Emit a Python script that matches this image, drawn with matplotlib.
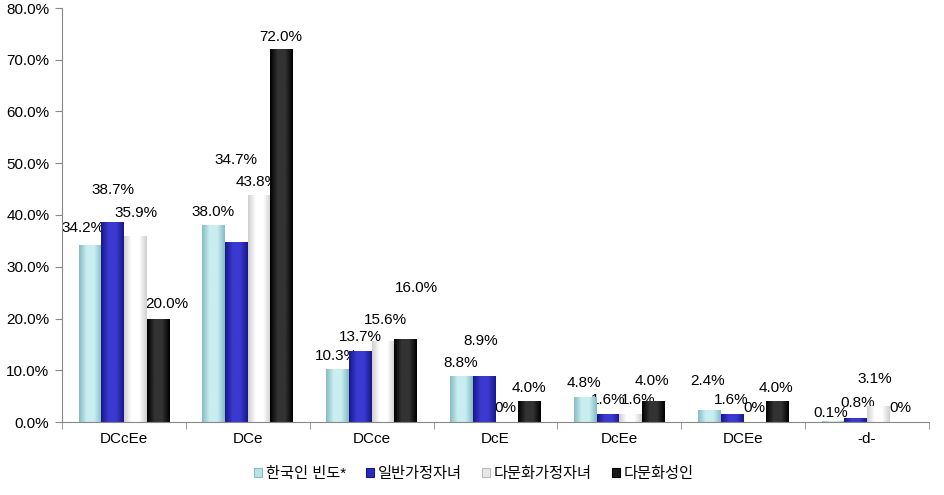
import numpy as np
import matplotlib
matplotlib.use("Agg")
import matplotlib.pyplot as plt
from matplotlib.colors import LinearSegmentedColormap
from matplotlib.patches import Patch

plt.rcParams['font.family'] = ['Liberation Sans', 'Noto Sans CJK KR', 'DejaVu Sans']

categories = ["DCcEe", "DCe", "DCce", "DcE", "DcEe", "DCEe", "-d-"]
series_names = ["한국인 빈도*", "일반가정자녀", "다문화가정자녀", "다문화성인"]
korean_freq = [34.2, 38.0, 10.3, 8.8, 4.8, 2.4, 0.1]
general_children = [38.7, 34.7, 13.7, 8.9, 1.6, 1.6, 0.8]
multicultural_children = [35.9, 43.8, 15.6, 0.0, 1.6, 0.0, 3.1]
multicultural_adults = [20.0, 72.0, 16.0, 4.0, 4.0, 4.0, 0.0]
label_texts = [
    ["34.2%", "38.0%", "10.3%", "8.8%", "4.8%", "2.4%", "0.1%"],
    ["38.7%", "34.7%", "13.7%", "8.9%", "1.6%", "1.6%", "0.8%"],
    ["35.9%", "43.8%", "15.6%", "0%", "1.6%", "0%", "3.1%"],
    ["20.0%", "72.0%", "16.0%", "4.0%", "4.0%", "4.0%", "0%"],
]
yticks = [0, 10, 20, 30, 40, 50, 60, 70, 80]

# label offsets in pixels (dx, dy above bar top) - manual placement as in reference
label_dx = [
    [-7, -1, -1, -1, -1, -2, -2],
    [0, 0, 0, -3, 0, -1, 2],
    [1, -2, 2, -1, 7, 0, -4],
    [9, -1, 11, -1, -1, -1, -1],
]
label_dy = [
    [17, 13, 13, 13, 14, 29, 8],
    [32, 82, 14, 35, 14, 14, 15],
    [23, 13, 21, 14, 14, 14, 27],
    [15, 12, 51, 13, 20, 13, 14],
]

series = [korean_freq, general_children, multicultural_children, multicultural_adults]
edge_cols = ["#86bcc2", "#18188a", "#cfcfcf", "#000000"]
mid_cols = ["#c9eef1", "#3a3ad0", "#ffffff", "#333333"]

fig = plt.figure(figsize=(9.45, 4.95), dpi=100)
ax = fig.add_axes([62/945, 1-422/495, (929-62)/945, (422-8)/495])

x = np.arange(len(categories))
w = 0.183
for j, vals in enumerate(series):
    pos = x + (j - 1.5) * w
    bars = ax.bar(pos, vals, width=w, color=mid_cols[j], zorder=2, linewidth=0)
    cmap = LinearSegmentedColormap.from_list("g%d" % j, [edge_cols[j], mid_cols[j], mid_cols[j], edge_cols[j]])
    grad = np.linspace(0, 1, 64).reshape(1, -1)
    for b in bars:
        h = b.get_height()
        if h <= 0:
            continue
        im = ax.imshow(grad, cmap=cmap, aspect='auto',
                       extent=[b.get_x(), b.get_x() + b.get_width(), 0, h],
                       zorder=2.1, interpolation='bilinear')
        im.set_clip_path(b)
    for i, v in enumerate(vals):
        ax.annotate(label_texts[j][i], xy=(pos[i], v), xytext=(label_dx[j][i], label_dy[j][i]),
                    textcoords='offset pixels', ha='center', va='center', fontsize=11,
                    color='black', zorder=1)

ax.set_xlim(-0.5, len(categories) - 0.5)
ax.set_ylim(0, 80)
ax.set_yticks(yticks)
ax.set_yticklabels(["%.1f%%" % t for t in yticks], fontsize=11)
ax.set_xticks(x)
ax.set_xticklabels(categories, fontsize=11)
ax.set_xticks(np.arange(len(categories) + 1) - 0.5, minor=True)
ax.tick_params(axis='x', which='major', length=0, pad=7)
ax.tick_params(axis='x', which='minor', length=5, color='#888888', direction='out')
ax.tick_params(axis='y', length=5, color='#888888', direction='out', pad=4)
for s in ['top', 'right']:
    ax.spines[s].set_visible(False)
for s in ['left', 'bottom']:
    ax.spines[s].set_color('#888888')
ax.set_facecolor('white')

handles = [Patch(facecolor="#b8e4e8", edgecolor="#86bcc2", linewidth=0.8),
           Patch(facecolor="#2a2ab8", edgecolor="#18188a", linewidth=0.8),
           Patch(facecolor="#e8e8e8", edgecolor="#bbbbbb", linewidth=0.8),
           Patch(facecolor="#1a1a1a", edgecolor="#000000", linewidth=0.8)]
leg = fig.legend(handles, series_names, loc='center', bbox_to_anchor=(474/945, 1-474/495), ncol=4,
                 frameon=False, fontsize=11, handlelength=0.5, handleheight=0.5,
                 handletextpad=0.25, columnspacing=1.35)

fig.savefig("out.png", dpi=100)
